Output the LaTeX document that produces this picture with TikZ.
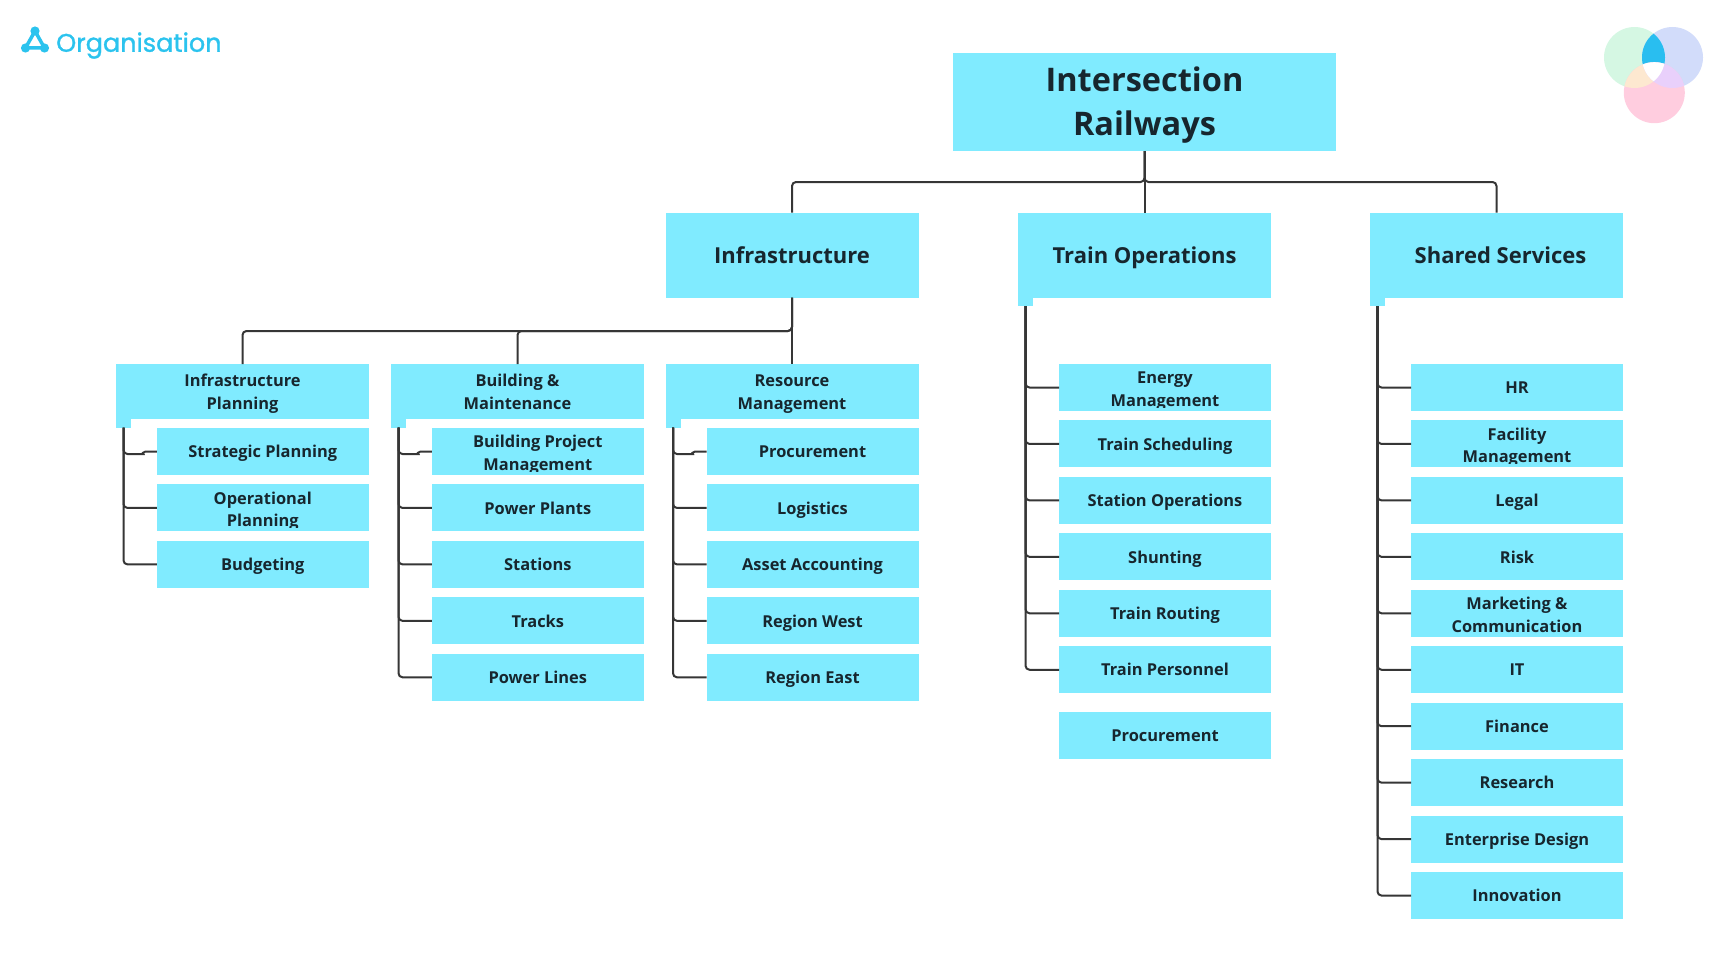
\documentclass[tikz,border=0pt]{standalone}
\usepackage{fontspec}
\setmainfont{Open Sans}
\newfontfamily\logofont{Poppins}[FakeBold = 1.2]

\definecolor{boxblue}{HTML}{80EBFF}
\definecolor{inktext}{HTML}{17262E}
\definecolor{linkgray}{HTML}{363636}
\definecolor{logoblue}{HTML}{2BC3EE}
\definecolor{venngreen}{HTML}{D5F7E3}
\definecolor{vennblue}{HTML}{D2DCFA}
\definecolor{vennpink}{HTML}{FFCDDF}
\definecolor{venncyan}{HTML}{29BEF0}
\definecolor{vennpeach}{HTML}{FDE8D0}
\definecolor{vennlilac}{HTML}{E9D0FB}

\tikzset{
	boxbase/.style = {fill = boxblue, text = inktext, align = center, inner sep = 0, outer sep = 0},
	topbox/.style = {boxbase, minimum width = 383, minimum height = 98, font = \fontsize{32.5}{43.5}\selectfont\bfseries, text height = 66, text depth = 0},
	mainbox/.style = {boxbase, minimum width = 253, minimum height = 85, font = \fontsize{22}{30}\selectfont\bfseries, text height = 27.5, text depth = 10},
	subbox/.style = {boxbase, minimum width = 253, minimum height = 55, font = \fontsize{16.4}{23}\selectfont\bfseries, text height = 36, text depth = 0},
	leafbox/.style = {boxbase, minimum width = 212, minimum height = 47, font = \fontsize{16.4}{22.7}\selectfont\bfseries, text height = 18.4, text depth = 6},
	leaftwo/.style = {leafbox, text height = 37.5, text depth = 0},
	tabbox/.style = {fill = boxblue, inner sep = 0, outer sep = 0, minimum width = 15, minimum height = 8.5},
	link/.style = {draw = linkgray, line width = 2, rounded corners = 4},
}

\begin{document}
\begin{tikzpicture}[x = 1pt, y = -1pt]
	\useasboundingbox (0, 0) rectangle (1733, 974);
	
	%	logo
	\coordinate (logotop) at (35, 31);
	\coordinate (logoleft) at (25.5, 48);
	\coordinate (logoright) at (44.5, 48);
	\draw[logoblue, line width = 3.5] (logotop) -- (logoleft) -- (logoright) -- cycle;
	\foreach \spot in {logotop, logoleft, logoright}
		\fill[logoblue] (\spot) circle (4.6);
	\node[anchor = west, inner sep = 0, text = logoblue, font = \logofont\fontsize{25.5}{32}\selectfont] (logotext) at (56, 45.5) {Organisation};
	
	%	venn
	\def\vr{30.5}
	\coordinate (vgreen) at (1634.5, 57.5);
	\coordinate (vblue) at (1672.5, 57.5);
	\coordinate (vpink) at (1654.3, 92.7);
	\fill[venngreen] (vgreen) circle (\vr);
	\fill[vennblue] (vblue) circle (\vr);
	\fill[vennpink] (vpink) circle (\vr);
	\begin{scope}
		\clip (vgreen) circle (\vr);
		\fill[venncyan] (vblue) circle (\vr);
		\fill[vennpeach] (vpink) circle (\vr);
	\end{scope}
	\begin{scope}
		\clip (vblue) circle (\vr);
		\fill[vennlilac] (vpink) circle (\vr);
		\clip (vgreen) circle (\vr);
		\fill[white] (vpink) circle (\vr);
	\end{scope}
	
	%	top levels
	\node[topbox] (title) at (1144.5, 102) {Intersection\\Railways};
	\node[mainbox] (infra) at (792, 255) {Infrastructure};
	\node[mainbox] (trainops) at (1144.5, 255) {Train Operations};
	\node[mainbox] (shared) at (1496.5, 255) {\hspace{8pt}Shared Services};
	
	\node[subbox] (plan) at (242.5, 391.5) {Infrastructure\\Planning};
	\node[subbox] (build) at (517.5, 391.5) {Building \&\\Maintenance};
	\node[subbox] (resrc) at (792, 391.5) {Resource\\Management};
	
	%	leaves
	\foreach \name/\xpos/\first/\items in {
		plan/262.8/451.5/{leafbox/{Strategic Planning},leaftwo/{Operational\\Planning},leafbox/{Budgeting}},
		build/537.8/451.5/{leaftwo/{Building Project\\Management},leafbox/{Power Plants},leafbox/{Stations},leafbox/{Tracks},leafbox/{Power Lines}},
		resrc/812.5/451.5/{leafbox/{Procurement},leafbox/{Logistics},leafbox/{Asset Accounting},leafbox/{Region West},leafbox/{Region East}},
		trainops/1165/387.5/{leaftwo/{Energy\\Management},leafbox/{Train Scheduling},leafbox/{Station Operations},leafbox/{Shunting},leafbox/{Train Routing},leafbox/{Train Personnel}},
		shared/1517/387.5/{leafbox/{HR},leaftwo/{Facility\\Management},leafbox/{Legal},leafbox/{Risk},leaftwo/{Marketing \&\\Communication},leafbox/{IT},leafbox/{Finance},leafbox/{Research},leafbox/{Enterprise Design},leafbox/{Innovation}}}
	{
		\foreach \kind/\txt [count = \i] in \items
			\node[\kind] (\name\i) at (\xpos, {\first + 56.45*(\i - 1)}) {\txt};
		\node[tabbox, anchor = north west] (\name tab) at (\name.south west) {};
	}
	\node[leafbox] (extra) at (1165, 735) {Procurement};
	
	%	text that runs past the text area of the box
	\foreach \name in {plan2, build1, trainops1, shared2}
		\fill[boxblue] ([yshift = 3pt]\name.south west) rectangle (\name.south east);
	
	%	connectors
	\coordinate (topbus) at (1144.5, 182);
	\coordinate (infrabus) at (792, 331);
	\draw[link] (title.south) -- (topbus) -| (infra.north);
	\draw[link] (title.south) -- (topbus) -| (shared.north);
	\draw[link] (title.south) -- (trainops.north);
	\draw[link] (infra.south) -- (infrabus) -| (plan.north);
	\draw[link] (infra.south) -- (infrabus) -| (build.north);
	\draw[link] (infra.south) -- (resrc.north);
	
	\foreach \name/\first/\last in {plan/2/3, build/2/5, resrc/2/5, trainops/1/6, shared/1/10}
		\foreach \i in {\first, ..., \last}
			\draw[link] (\name tab.south) |- (\name\i.west);
	\foreach \name in {plan, build, resrc}
		\draw[link] (\name tab.south) -- ++(0, 26.5) -- ++(16, 0) [sharp corners] to[out = 0, in = 180] ++(6, -2.5) -- (\name1.west);
\end{tikzpicture}
\end{document}
